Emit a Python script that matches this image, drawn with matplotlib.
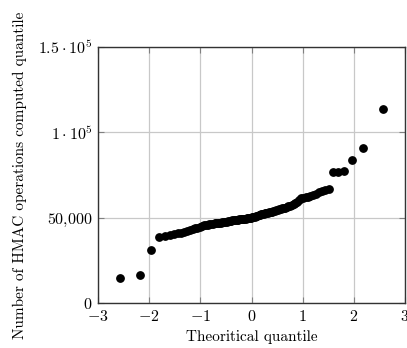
import statistics
import matplotlib
matplotlib.use("Agg")
import matplotlib.pyplot as plt

# sorted sample values (n = 100)
counts = [
    14700, 16600, 31000, 38600, 39400, 40100, 40500, 40800, 41100, 41500,
    42200, 42900, 43400, 43700, 44000, 44600, 45200, 45500, 45700, 45900,
    46100, 46300, 46500, 46600, 46700, 46800, 46900, 47100, 47300, 47500,
    47600, 47700, 47900, 48100, 48300, 48400, 48500, 48700, 48800, 48900,
    49000, 49100, 49200, 49300, 49400, 49500, 49600, 49700, 49800, 49900,
    50100, 50300, 50500, 50700, 51000, 51300, 51600, 51900, 52100, 52400,
    52600, 52800, 53000, 53200, 53400, 53600, 53800, 54100, 54400, 54700,
    55000, 55300, 55500, 55700, 55900, 56200, 56600, 57000, 57400, 57900,
    58500, 59300, 60300, 61300, 61700, 62000, 62300, 62800, 63400, 64000,
    64800, 65400, 66000, 66800, 76600, 77000, 77400, 83600, 91000, 113500,
]
x_ticks = [-3, -2, -1, 0, 1, 2, 3]
x_labels = [r"$-3$", r"$-2$", r"$-1$", r"$0$", r"$1$", r"$2$", r"$3$"]
y_ticks = [0, 50000, 100000, 150000]
y_labels = [r"$0$", r"$50{,}000$", r"$1\cdot10^{5}$", r"$1.5\cdot10^{5}$"]

# theoretical normal quantiles
n = len(counts)
nd = statistics.NormalDist()
theo = [nd.inv_cdf((i + 0.5) / n) for i in range(n)]

plt.rcParams["font.family"] = "serif"
plt.rcParams["font.serif"] = ["cmr10", "DejaVu Serif"]
plt.rcParams["mathtext.fontset"] = "cm"
plt.rcParams["axes.unicode_minus"] = False

fig = plt.figure(figsize=(4.07, 3.48), dpi=100)
ax = fig.add_axes([98 / 407, 45 / 348, 307 / 407, 256 / 348])

ax.scatter(theo, counts, s=28, color="black", zorder=3, clip_on=False)

ax.set_xlim(-3, 3)
ax.set_ylim(0, 150000)
ax.set_xticks(x_ticks)
ax.set_xticklabels(x_labels)
ax.set_yticks(y_ticks)
ax.set_yticklabels(y_labels)
ax.grid(True, color="#c8c8c8", linewidth=0.9)
ax.set_axisbelow(True)
ax.tick_params(direction="in", length=4, width=0.8, color="#808080",
               top=True, right=True, labelsize=11.5, pad=4)
for sp in ax.spines.values():
    sp.set_linewidth(1.0)
    sp.set_color("#333333")

ax.set_xlabel("Theoritical quantile", fontsize=11, labelpad=5)
ax.set_ylabel("Number of HMAC operations computed quantile", fontsize=11, labelpad=8)

fig.savefig("out.png", dpi=100)
